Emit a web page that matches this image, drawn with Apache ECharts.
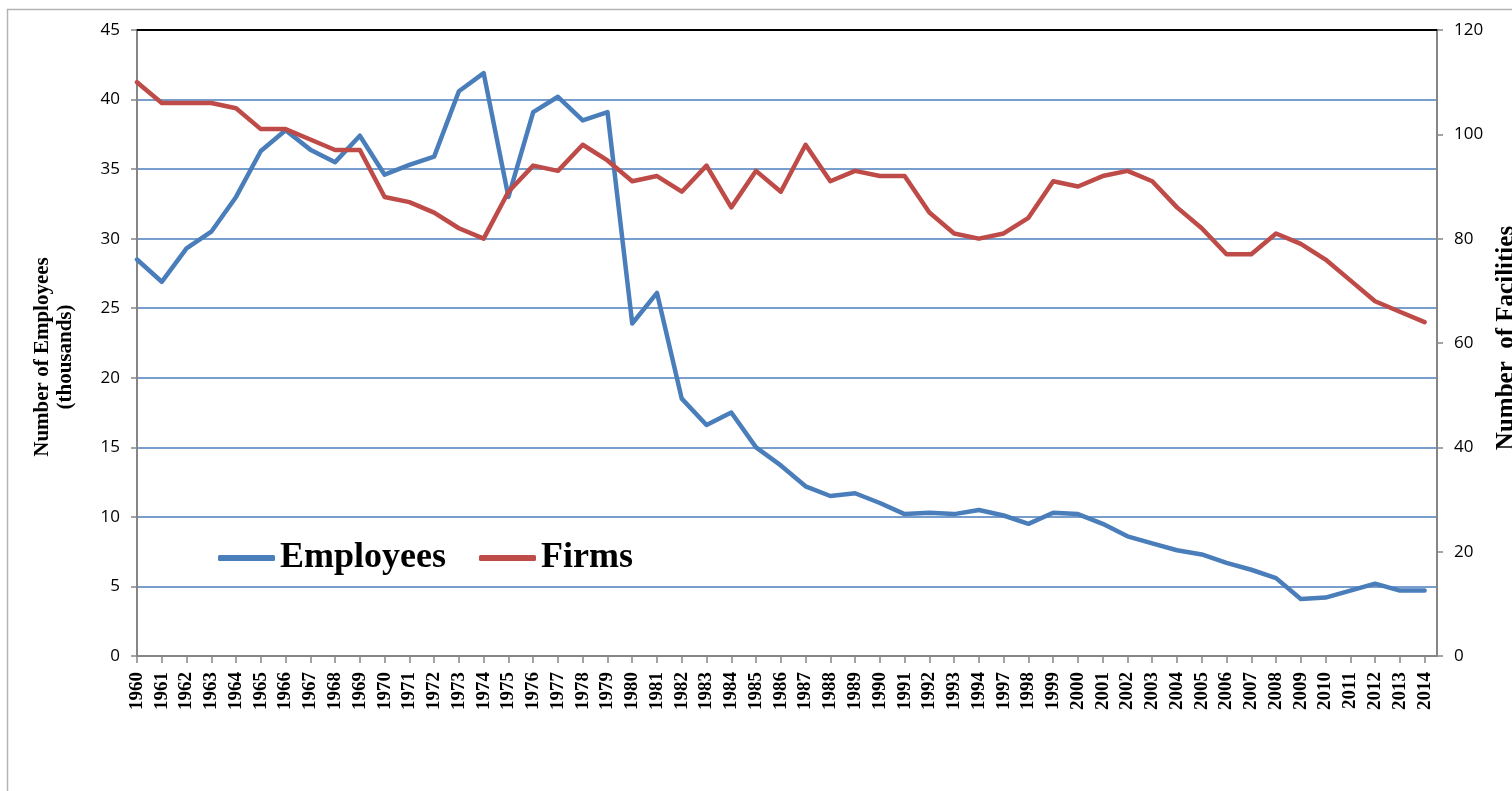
<!DOCTYPE html>
<html>
<head>
<meta charset="utf-8">
<script src="https://cdn.jsdelivr.net/npm/echarts@6/dist/echarts.min.js"></script>
<style>
  html, body { margin: 0; padding: 0; background: #fff; }
  #chart { width: 1512px; height: 791px; }
</style>
</head>
<body>
<div id="chart"></div>
<script>
// years on the category axis (1995 and 1996 are missing in the source)
const years = [
  "1960","1961","1962","1963","1964","1965","1966","1967","1968","1969",
  "1970","1971","1972","1973","1974","1975","1976","1977","1978","1979",
  "1980","1981","1982","1983","1984","1985","1986","1987","1988","1989",
  "1990","1991","1992","1993","1994","1997","1998","1999","2000","2001",
  "2002","2003","2004","2005","2006","2007","2008","2009","2010","2011",
  "2012","2013","2014"
];

// number of employees, thousands (left axis)
const employees = [
  28.5, 26.9, 29.3, 30.5, 33.0, 36.3, 37.8, 36.4, 35.5, 37.4,
  34.6, 35.3, 35.9, 40.6, 41.9, 33.0, 39.1, 40.2, 38.5, 39.1,
  23.9, 26.1, 18.5, 16.6, 17.5, 15.0, 13.7, 12.2, 11.5, 11.7,
  11.0, 10.2, 10.3, 10.2, 10.5, 10.1, 9.5, 10.3, 10.2, 9.5,
  8.6, 8.1, 7.6, 7.3, 6.7, 6.2, 5.6, 4.1, 4.2, 4.7,
  5.2, 4.7, 4.7
];

// number of firms / facilities (right axis)
const firms = [
  110, 106, 106, 106, 105, 101, 101, 99, 97, 97,
  88, 87, 85, 82, 80, 89, 94, 93, 98, 95,
  91, 92, 89, 94, 86, 93, 89, 98, 91, 93,
  92, 92, 85, 81, 80, 81, 84, 91, 90, 92,
  93, 91, 86, 82, 77, 77, 81, 79, 76, 72,
  68, 66, 64
];

const BLUE = "#4a7ebb";
const RED = "#be4b48";
const AXIS_GRAY = "#868686";
const serif = "'Liberation Serif', 'Times New Roman', serif";
const sans = "'Open Sans', 'Noto Sans', sans-serif";

let chart = echarts.init(document.getElementById("chart"));

let option = {
  animation: false,
  backgroundColor: "#fff",
  graphic: [{
    type: "rect",
    shape: { x: 7.5, y: 9.5, width: 1600, height: 900 },
    style: { fill: "none", stroke: "#b4b4b4", lineWidth: 1.5 },
    silent: true
  }],
  grid: { left: 137, right: 75, top: 30, bottom: 135, containLabel: false, outerBoundsMode: "none" },
  legend: {
    left: 213,
    top: 535,
    icon: "roundRect",
    itemWidth: 57,
    itemHeight: 6,
    itemGap: 33,
    textStyle: { fontFamily: serif, fontWeight: "bold", fontSize: 36, color: "#000" },
    data: ["Employees", "Firms"]
  },
  xAxis: [{
    type: "value",
    min: 0,
    max: 52.5,
    interval: 1,
    axisLine: { onZero: false, lineStyle: { color: AXIS_GRAY, width: 2 } },
    axisTick: { show: true, length: 7, lineStyle: { color: AXIS_GRAY, width: 1.5 } },
    splitLine: { show: false },
    axisLabel: {
      rotate: 90,
      margin: 16,
      fontFamily: serif,
      fontWeight: "bold",
      fontSize: 19,
      color: "#000",
      showMaxLabel: false,
      formatter: v => years[v] || ""
    }
  }, {
    type: "value",
    position: "top",
    min: 0,
    max: 52.5,
    axisLine: { show: true, onZero: false, lineStyle: { color: "#000", width: 2 } },
    axisTick: { show: false },
    axisLabel: { show: false },
    splitLine: { show: false }
  }],
  yAxis: [{
    type: "value",
    position: "left",
    min: 0,
    max: 45,
    interval: 5,
    name: "Number of Employees\n(thousands)",
    nameLocation: "middle",
    nameRotate: 90,
    nameGap: 60,
    nameTextStyle: { fontFamily: serif, fontWeight: "bold", fontSize: 21, color: "#000", lineHeight: 23, padding: [0, 28, 0, 0] },
    axisLine: { show: true, onZero: false, lineStyle: { color: AXIS_GRAY, width: 2 } },
    axisTick: { show: true, length: 6, lineStyle: { color: AXIS_GRAY, width: 1.5 } },
    axisLabel: { fontFamily: sans, fontSize: 17, color: "#000", margin: 17 },
    splitLine: { lineStyle: { color: BLUE, width: 1.5 } }
  }, {
    type: "value",
    position: "right",
    min: 0,
    max: 120,
    interval: 20,
    name: "Number  of Facilities",
    nameLocation: "middle",
    nameRotate: 90,
    nameGap: 50,
    nameTextStyle: { fontFamily: serif, fontWeight: "bold", fontSize: 25, color: "#000", padding: [0, 0, 0, 10] },
    axisLine: { show: true, onZero: false, lineStyle: { color: AXIS_GRAY, width: 2 } },
    axisTick: { show: true, length: 6, lineStyle: { color: AXIS_GRAY, width: 1.5 } },
    axisLabel: { fontFamily: sans, fontSize: 17, color: "#000", margin: 17 },
    splitLine: { show: false }
  }],
  series: [{
    name: "Employees",
    type: "line",
    yAxisIndex: 0,
    symbol: "none",
    color: BLUE,
    lineStyle: { width: 4.5, color: BLUE, cap: "round", join: "round" },
    data: employees.map((v, i) => [i, v])
  }, {
    name: "Firms",
    type: "line",
    yAxisIndex: 1,
    symbol: "none",
    color: RED,
    lineStyle: { width: 4.5, color: RED, cap: "round", join: "round" },
    data: firms.map((v, i) => [i, v])
  }]
};

chart.setOption(option);
</script>
</body>
</html>
